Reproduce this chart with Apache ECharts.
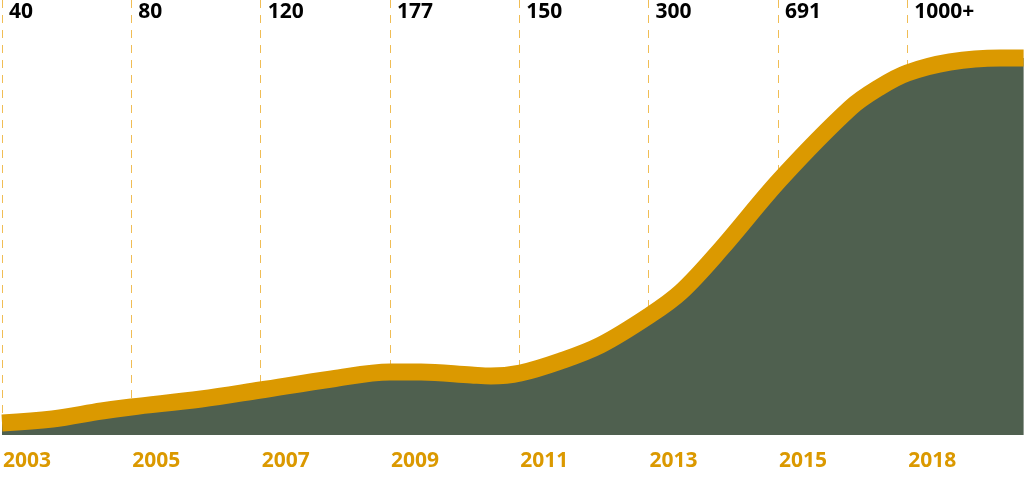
<!DOCTYPE html>
<html>
<head>
<meta charset="utf-8">
<style>
  html, body { margin: 0; padding: 0; background: #fff; }
  #chart { width: 1024px; height: 477px; }
</style>
<script src="https://cdn.jsdelivr.net/npm/echarts@6/dist/echarts.min.js"></script>
</head>
<body>
<div id="chart"></div>
<script>
// one slot per dashed guide line
const years = ["2003", "2005", "2007", "2009", "2011", "2013", "2015", "2018"];
const counts = ["40", "80", "120", "177", "150", "300", "691", "1000+"];

// curve: position in slots, height of the band
const curveX = [0, 0.39, 0.77, 1.0, 1.54, 2.0, 2.55, 3.0, 3.24, 3.63, 3.78, 4.01, 4.32, 4.63, 5.0, 5.25, 5.56, 6.02, 6.56, 6.79, 7.0, 7.33, 7.72, 7.9];
const curveY = [12, 16, 24, 28, 36, 45, 56, 63, 63, 60, 59, 62, 74, 90, 119, 143, 186, 256, 327, 348, 362, 373, 377, 377];

const orange = "#db9900";
const green = "#4f604f";
const font = "'Open Sans', 'DejaVu Sans', sans-serif";

let chart = echarts.init(document.getElementById("chart"));

let points = [];
for (let i = 0; i < curveX.length; i++) {
  points.push([curveX[i], curveY[i]]);
}

function slotLabel(list) {
  return function (v) {
    if (Math.abs(v - Math.round(v)) > 0.001) return "";
    return list[Math.round(v)] || "";
  };
}

const option = {
  animation: false,
  grid: { left: 0, right: 0, top: 0, bottom: 42 },
  xAxis: [
    {
      type: "value",
      position: "bottom",
      min: 0,
      max: 7.903,
      interval: 1,
      axisLine: { show: false },
      axisTick: { show: false },
      splitLine: {
        show: true,
        showMaxLine: false,
        lineStyle: { color: "#f0bd55", width: 1, type: [8, 7] },
      },
      axisLabel: {
        showMaxLabel: false,
        align: "left",
        verticalAlign: "middle",
        margin: 26,
        padding: [0, 0, 0, 1],
        color: orange,
        fontFamily: font,
        fontWeight: "bold",
        fontSize: 21,
        formatter: slotLabel(years),
      },
    },
    {
      type: "value",
      position: "top",
      min: 0,
      max: 7.903,
      interval: 1,
      axisLine: { show: false },
      axisTick: { show: false },
      splitLine: { show: false },
      axisLabel: {
        inside: true,
        showMaxLabel: false,
        align: "left",
        verticalAlign: "middle",
        margin: 12,
        padding: [0, 0, 0, 7],
        color: "#000",
        fontFamily: font,
        fontWeight: "bold",
        fontSize: 21,
        formatter: slotLabel(counts),
      },
    },
  ],
  yAxis: {
    type: "value",
    min: 0,
    max: 435,
    show: false,
    splitLine: { show: false },
  },
  series: [
    {
      type: "line",
      data: points,
      smooth: 0.35,
      symbol: "none",
      lineStyle: { color: orange, width: 17, cap: "butt" },
      areaStyle: { color: green, opacity: 1 },
    },
  ],
};

chart.setOption(option);
window.addEventListener("resize", () => {
  chart.resize();
});
</script>
</body>
</html>
